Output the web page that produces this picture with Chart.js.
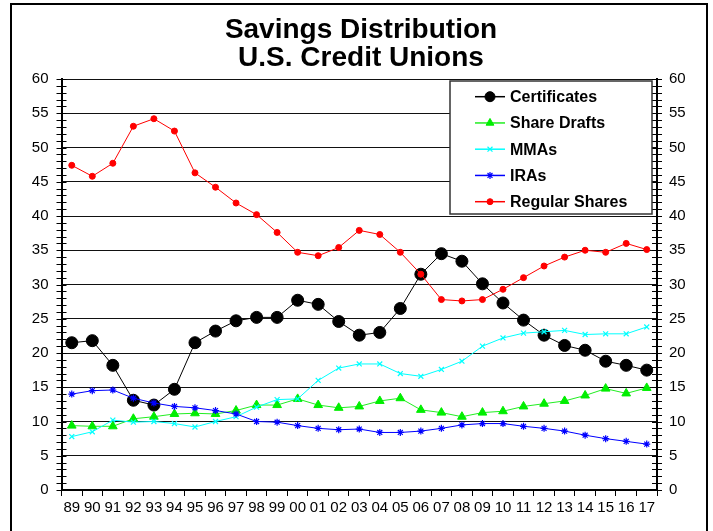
<!DOCTYPE html>
<html>
<head>
<meta charset="utf-8">
<title>Savings Distribution - U.S. Credit Unions</title>
<script src="https://cdn.jsdelivr.net/npm/chart.js@4/dist/chart.umd.min.js"></script>
<style>
  html, body { margin: 0; padding: 0; background: #fff; }
  canvas { display: block; }
</style>
</head>
<body>
<canvas id="chart" width="713" height="531"></canvas>
<script>
// Year labels (two-digit), 1989 through 2017
const years = ['89','90','91','92','93','94','95','96','97','98','99','00','01','02','03','04','05','06','07','08','09','10','11','12','13','14','15','16','17'];

// Share of credit union savings, percent
const certificates  = [21.5,21.8,18.2,13.1,12.4,14.7,21.5,23.2,24.7,25.2,25.2,27.7,27.1,24.6,22.6,23.0,26.5,31.5,34.5,33.4,30.1,27.3,24.8,22.6,21.1,20.4,18.8,18.2,17.5];
const shareDrafts   = [9.4,9.3,9.3,10.4,10.7,11.1,11.2,11.1,11.6,12.4,12.4,13.3,12.4,12.0,12.2,13.0,13.4,11.7,11.3,10.7,11.3,11.5,12.2,12.6,13.0,13.8,14.8,14.1,14.9];
const mmas          = [7.8,8.5,10.2,9.9,10.0,9.7,9.2,10.0,10.7,12.1,13.2,13.3,16.0,17.8,18.4,18.4,17.0,16.6,17.6,18.8,21.0,22.2,22.9,23.1,23.3,22.7,22.8,22.8,23.8];
const iras          = [14.0,14.5,14.6,13.4,12.7,12.2,12.0,11.6,11.1,10.0,9.9,9.4,9.0,8.8,8.9,8.4,8.4,8.6,9.0,9.5,9.7,9.7,9.3,9.0,8.6,8.0,7.5,7.1,6.7];
const regularShares = [47.4,45.8,47.7,53.1,54.2,52.4,46.3,44.2,41.9,40.2,37.6,34.7,34.2,35.4,37.9,37.3,34.7,31.5,27.8,27.6,27.8,29.3,31.0,32.7,34.0,35.0,34.7,36.0,35.1];

const titleLines = ['Savings Distribution', 'U.S. Credit Unions'];
const FONT = '"Liberation Sans", Arial, Helvetica, sans-serif';

// Outer frame, two-line title, minor axis ticks and the boxed legend
const decorations = {
  id: 'decorations',
  beforeDraw(chart) {
    const ctx = chart.ctx;
    ctx.save();
    ctx.fillStyle = '#fff';
    ctx.fillRect(0, 0, chart.width, chart.height);
    ctx.restore();
  },
  afterDraw(chart) {
    const ctx = chart.ctx;
    const area = chart.chartArea;
    ctx.save();

    // frame
    ctx.strokeStyle = '#000';
    ctx.lineWidth = 2;
    ctx.strokeRect(11, 4, 696, 560);

    // title
    ctx.fillStyle = '#000';
    ctx.font = 'bold 28px ' + FONT;
    ctx.textAlign = 'center';
    ctx.textBaseline = 'middle';
    ctx.fillText(titleLines[0], 361, 30);
    ctx.fillText(titleLines[1], 361, 58);

    // minor ticks crossing both value axes
    ctx.strokeStyle = '#000';
    ctx.lineWidth = 1;
    [['y', area.left], ['y2', area.right]].forEach(([id, x]) => {
      const s = chart.scales[id];
      for (let v = s.min; v <= s.max; v++) {
        const py = Math.round(s.getPixelForValue(v)) + 0.5;
        ctx.beginPath();
        ctx.moveTo(x - 5, py);
        ctx.lineTo(x + 5, py);
        ctx.stroke();
      }
    });

    // legend box
    const lx = 450, ly = 81, lw = 202, lh = 133;
    ctx.fillStyle = '#fff';
    ctx.fillRect(lx, ly, lw, lh);
    ctx.strokeStyle = '#333';
    ctx.lineWidth = 1.5;
    ctx.strokeRect(lx, ly, lw, lh);

    ctx.font = 'bold 16px ' + FONT;
    ctx.textAlign = 'left';
    ctx.textBaseline = 'middle';
    chart.data.datasets.forEach((ds, i) => {
      const y = 96.7 + i * 26.25;
      ctx.strokeStyle = ds.borderColor;
      ctx.lineWidth = 1.5;
      ctx.beginPath();
      ctx.moveTo(475, y);
      ctx.lineTo(505, y);
      ctx.stroke();
      ctx.fillStyle = ds.pointBackgroundColor;
      ctx.strokeStyle = ds.pointBorderColor;
      ctx.lineWidth = ds.pointBorderWidth;
      Chart.helpers.drawPoint(ctx, {
        pointStyle: ds.pointStyle,
        radius: ds.legendRadius,
        borderWidth: ds.pointBorderWidth,
        rotation: 0
      }, 490, y);
      ctx.fillStyle = '#000';
      ctx.fillText(ds.label, 510, y + 1);
    });

    ctx.restore();
  }
};

new Chart(document.getElementById('chart'), {
  type: 'line',
  data: {
    labels: years,
    datasets: [
      {
        label: 'Certificates', data: certificates, order: 5,
        borderColor: '#000', borderWidth: 1,
        pointStyle: 'circle', pointRadius: 6, legendRadius: 5,
        pointBackgroundColor: '#000', pointBorderColor: '#000', pointBorderWidth: 1
      },
      {
        label: 'Share Drafts', data: shareDrafts, order: 4,
        borderColor: '#22ee22', borderWidth: 1,
        pointStyle: 'triangle', pointRadius: 5, legendRadius: 4.5,
        pointBackgroundColor: '#00ee00', pointBorderColor: '#00ee00', pointBorderWidth: 1
      },
      {
        label: 'MMAs', data: mmas, order: 3,
        borderColor: '#00ffff', borderWidth: 1,
        pointStyle: 'crossRot', pointRadius: 3.5, legendRadius: 3.5,
        pointBackgroundColor: '#00ffff', pointBorderColor: '#00ffff', pointBorderWidth: 1.2
      },
      {
        label: 'IRAs', data: iras, order: 2,
        borderColor: '#0000ff', borderWidth: 1,
        pointStyle: 'star', pointRadius: 3.5, legendRadius: 3.5,
        pointBackgroundColor: '#0000ff', pointBorderColor: '#0000ff', pointBorderWidth: 1.2
      },
      {
        label: 'Regular Shares', data: regularShares, order: 1,
        borderColor: '#ff0000', borderWidth: 1,
        pointStyle: 'circle', pointRadius: 3, legendRadius: 3,
        pointBackgroundColor: '#ff0000', pointBorderColor: '#ff0000', pointBorderWidth: 1
      }
    ]
  },
  options: {
    responsive: false,
    animation: false,
    events: [],
    layout: { padding: { top: 79, left: 0, right: 0, bottom: 0 } },
    plugins: {
      legend: { display: false },
      title: { display: false },
      tooltip: { enabled: false }
    },
    scales: {
      x: {
        type: 'category',
        offset: true,
        grid: { offset: true, drawOnChartArea: false, color: '#000', tickLength: 6, lineWidth: 1 },
        border: { color: '#000', width: 2 },
        ticks: { autoSkip: false, maxRotation: 0, minRotation: 0, padding: 3, color: '#000',
                 font: { family: FONT, size: 15 } },
        afterFit(scale) { scale.height = 41; }
      },
      y: {
        position: 'left',
        min: 0, max: 60,
        grid: { color: '#111', lineWidth: 1, drawTicks: false },
        border: { color: '#000', width: 2 },
        ticks: { stepSize: 5, padding: 13, color: '#000', font: { family: FONT, size: 15 } },
        afterFit(scale) { scale.width = 61.5; }
      },
      y2: {
        position: 'right',
        min: 0, max: 60,
        grid: { drawOnChartArea: false, drawTicks: false },
        border: { color: '#000', width: 2 },
        ticks: { stepSize: 5, padding: 12, color: '#000', font: { family: FONT, size: 15 } },
        afterFit(scale) { scale.width = 713 - 657; }
      }
    }
  },
  plugins: [decorations]
});
</script>
</body>
</html>
